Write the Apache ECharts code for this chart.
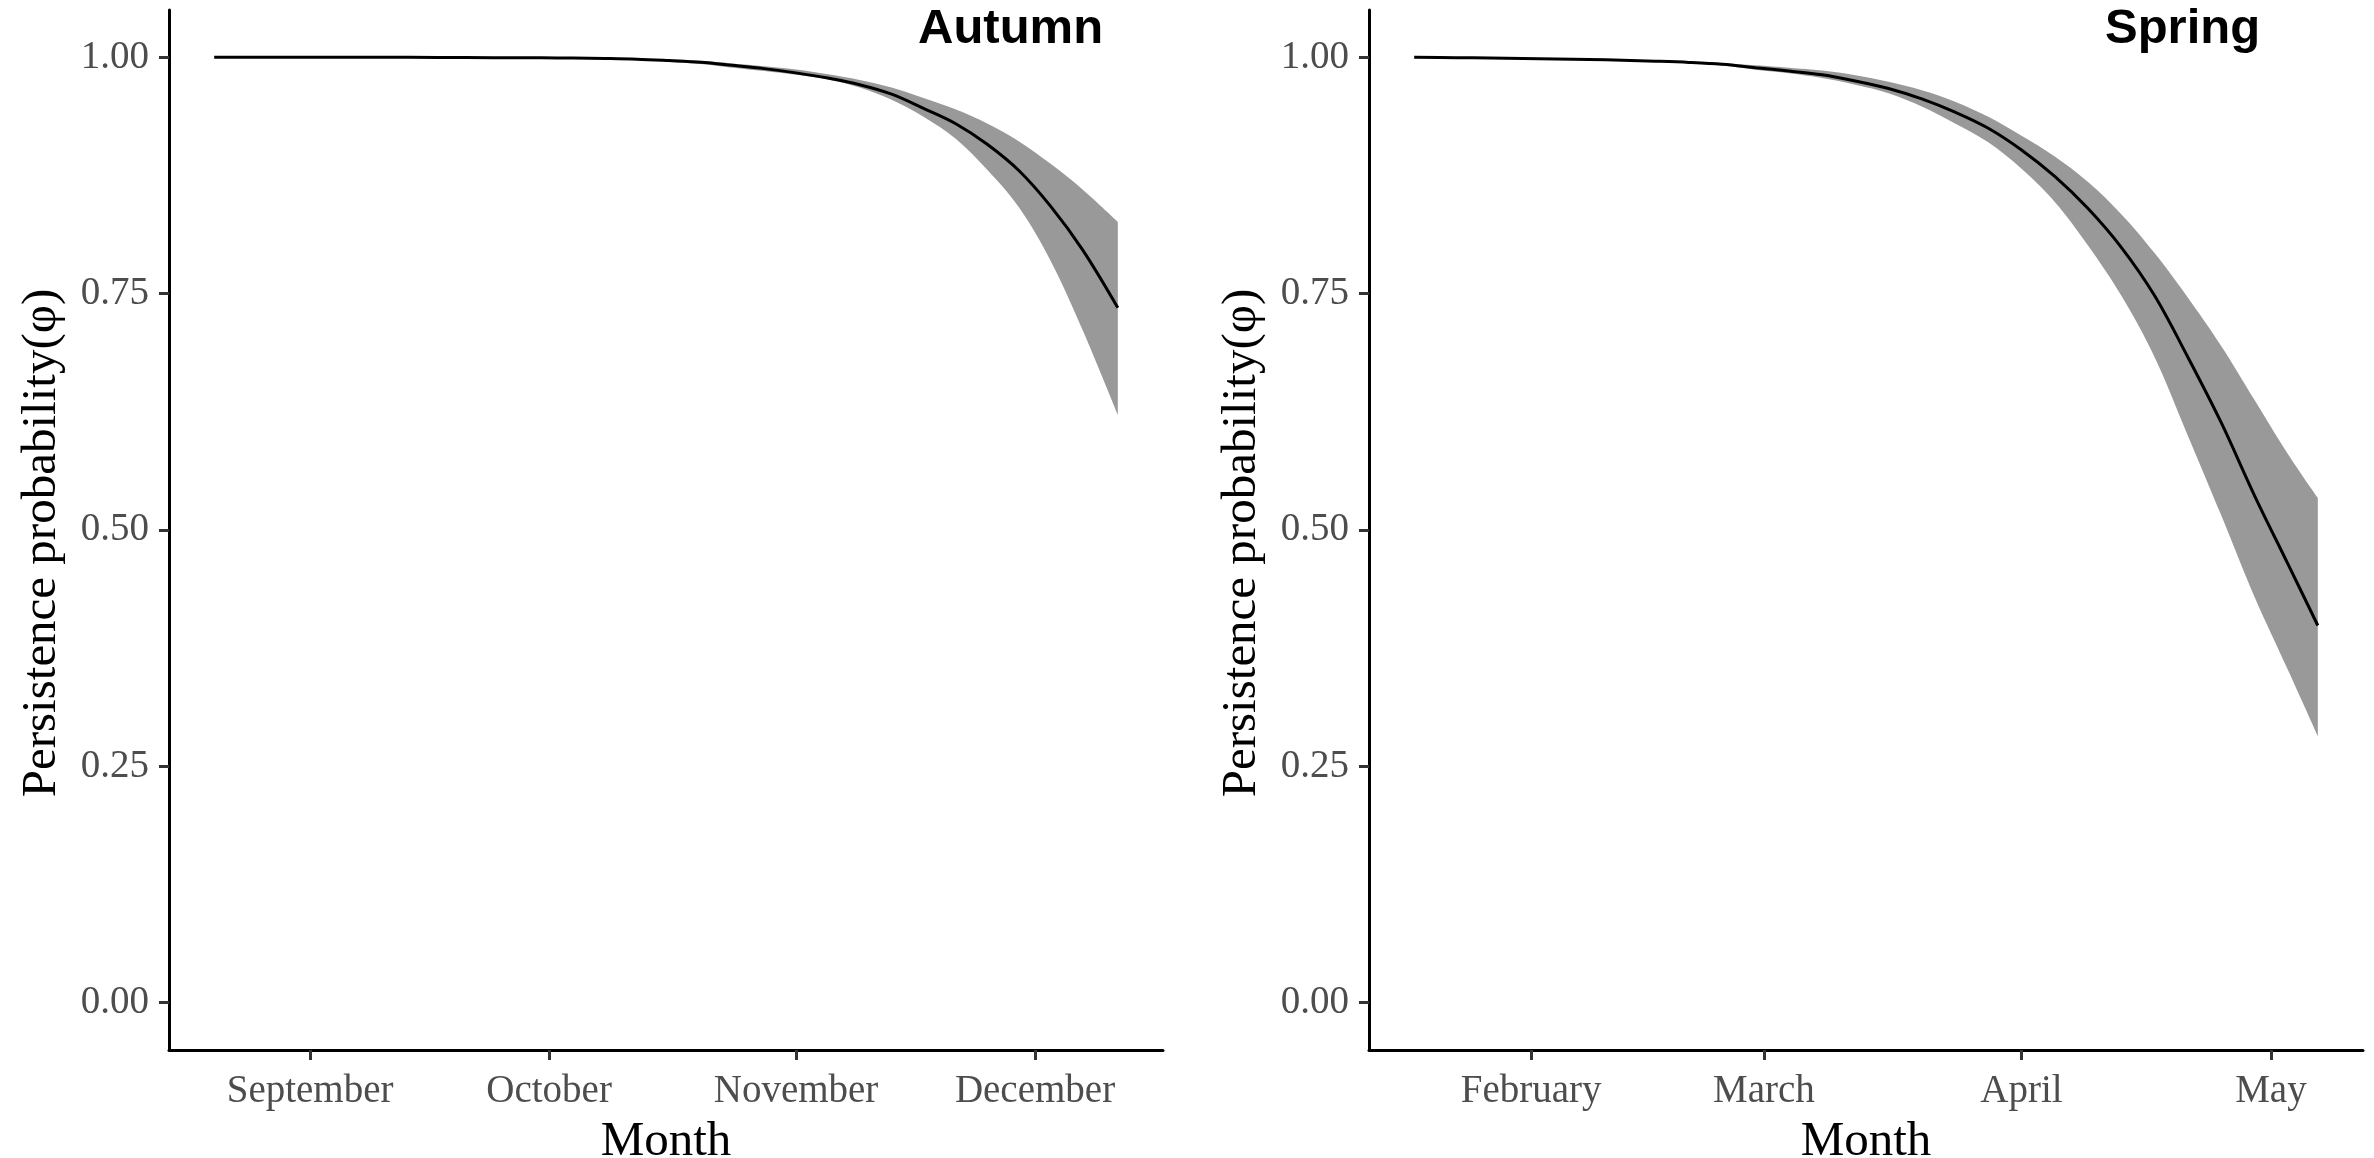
<!DOCTYPE html>
<html>
<head>
<meta charset="utf-8">
<script src="https://cdn.jsdelivr.net/npm/echarts@6.0.0/dist/echarts.min.js"></script>
<style>
html,body{margin:0;padding:0;background:#ffffff;}
#chart{width:2374px;height:1158px;}
</style>
</head>
<body>
<div id="chart"></div>
<script>
// ---------------- data ----------------
const autumnDates = ['2019-08-19T23:00','2019-08-27','2019-09-03','2019-09-10','2019-09-17','2019-09-24','2019-09-30','2019-10-04','2019-10-08','2019-10-12','2019-10-16','2019-10-20','2019-10-24','2019-10-28','2019-11-01','2019-11-05','2019-11-09','2019-11-13','2019-11-17','2019-11-21','2019-11-25','2019-11-29','2019-12-03','2019-12-07','2019-12-11T09:30'];
const autumnMean  = [1.000,1.000,1.000,1.000,0.9998,0.9996,0.9994,0.9991,0.9987,0.998,0.9965,0.9947,0.9915,0.988,0.9835,0.978,0.971,0.961,0.946,0.930,0.908,0.880,0.842,0.796,0.735];
const autumnUpper = [1.000,1.000,1.000,1.000,1.000,0.9999,0.9998,0.9996,0.9993,0.9988,0.9978,0.9962,0.9935,0.9905,0.987,0.982,0.976,0.968,0.957,0.945,0.930,0.911,0.887,0.860,0.826];
const autumnLower = [1.000,1.000,1.000,1.000,0.9997,0.9993,0.999,0.9986,0.998,0.9972,0.9952,0.993,0.989,0.9855,0.9815,0.9765,0.968,0.955,0.937,0.914,0.881,0.841,0.784,0.711,0.622];

const springDates = ['2019-01-17T22:20','2019-01-23','2019-01-27','2019-01-31','2019-02-04','2019-02-08','2019-02-12','2019-02-16','2019-02-20','2019-02-24','2019-02-28','2019-03-04','2019-03-08','2019-03-12','2019-03-16','2019-03-20','2019-03-24','2019-03-28','2019-04-01','2019-04-05','2019-04-09','2019-04-13','2019-04-17','2019-04-21','2019-04-25','2019-04-29','2019-05-03','2019-05-06T15:30'];
const springMean  = [1.000,0.9996,0.9992,0.9988,0.9983,0.9977,0.9968,0.9958,0.9945,0.9925,0.989,0.9855,0.9815,0.975,0.967,0.956,0.942,0.925,0.902,0.874,0.840,0.799,0.748,0.683,0.614,0.537,0.465,0.399];
const springUpper = [1.000,0.9997,0.9994,0.999,0.9986,0.998,0.9972,0.9963,0.9952,0.9938,0.9915,0.989,0.986,0.981,0.974,0.965,0.953,0.937,0.917,0.895,0.868,0.834,0.793,0.746,0.695,0.638,0.581,0.534];
const springLower = [1.000,0.9995,0.999,0.9986,0.998,0.9974,0.9964,0.9953,0.9938,0.9912,0.9868,0.983,0.978,0.971,0.962,0.948,0.930,0.910,0.882,0.847,0.801,0.748,0.683,0.600,0.516,0.430,0.353,0.282];

const autumnTickDates  = ['2019-09-01','2019-10-01','2019-11-01','2019-12-01'];
const autumnTickLabels = ['September','October','November','December'];
const springTickDates  = ['2019-02-01','2019-03-01','2019-04-01','2019-05-01'];
const springTickLabels = ['February','March','April','May'];

const yTicks      = [0, 0.25, 0.5, 0.75, 1];
const yTickLabels = ['0.00','0.25','0.50','0.75','1.00'];

const panelTitles = ['Autumn','Spring'];
const xTitle = 'Month';
const yTitle = 'Persistence probability(\u03c6)';

// ---------------- helpers ----------------
function toMs(s){ return Date.parse(s.length === 10 ? s + 'T00:00:00Z' : s + ':00Z'); }
const SERIF = "'Liberation Serif','Times New Roman',serif";
const SANS  = "'Liberation Sans',Arial,sans-serif";

function panel(idx, dates, mean, lower, upper, tickDates, tickLabels){
  const t = dates.map(toMs);
  const tickMs = tickDates.map(toMs);
  const span = t[t.length-1] - t[0];
  const xMin = t[0] - 0.05*span, xMax = t[t.length-1] + 0.05*span;
  // hidden time axis that carries the series (so the band can be stacked)
  const timeAxis = { type:'time', gridIndex:idx, min:xMin, max:xMax, show:false, splitLine:{show:false} };
  // visible axis with ticks at the first day of each month
  const monthAxis = {
    type:'value', gridIndex:idx, min:xMin, max:xMax, position:'bottom', z:10,
    axisLine:{show:true, onZero:false, lineStyle:{color:'#000', width:3}},
    axisTick:{show:true, customValues:tickMs, length:10, lineStyle:{color:'#333333', width:3}},
    axisLabel:{show:true, customValues:tickMs, color:'#4d4d4d', fontSize:39, fontFamily:SERIF, margin:22,
      formatter:function(v){ const i = tickMs.findIndex(function(k){return Math.abs(k-v)<1;}); return i >= 0 ? tickLabels[i] : ''; }},
    splitLine:{show:false},
    name:xTitle, nameLocation:'middle', nameGap:68,
    nameTextStyle:{fontSize:49, color:'#000', fontFamily:SERIF}
  };
  const yAxis = {
    type:'value', gridIndex:idx, min:-0.05, max:1.05, z:10,
    axisLine:{show:true, onZero:false, lineStyle:{color:'#000', width:3}},
    axisTick:{show:true, customValues:yTicks, length:10, lineStyle:{color:'#333333', width:3}},
    axisLabel:{show:true, customValues:yTicks, color:'#4d4d4d', fontSize:39, fontFamily:SERIF, margin:20,
      formatter:function(v){ const i = yTicks.findIndex(function(k){return Math.abs(k-v)<1e-9;}); return i>=0 ? yTickLabels[i] : ''; }},
    splitLine:{show:false},
    name:yTitle, nameLocation:'middle', nameGap:102,
    nameTextStyle:{fontSize:49, color:'#000', fontFamily:SERIF, padding:[0,26,0,0]}
  };
  const xi = idx*2;
  const stackId = 'band' + idx;
  const series = [
    {type:'line', xAxisIndex:xi, yAxisIndex:idx, stack:stackId, smooth:0.35, symbol:'none', silent:true, z:1,
     lineStyle:{width:0, opacity:0}, data:t.map(function(x,i){return [x, lower[i]];})},
    {type:'line', xAxisIndex:xi, yAxisIndex:idx, stack:stackId, smooth:0.35, symbol:'none', silent:true, z:2,
     lineStyle:{width:0, opacity:0}, areaStyle:{color:'#999999', opacity:1},
     data:t.map(function(x,i){return [x, upper[i]-lower[i]];})},
    {type:'line', xAxisIndex:xi, yAxisIndex:idx, smooth:0.35, symbol:'none', z:3,
     lineStyle:{color:'#000', width:3}, data:t.map(function(x,i){return [x, mean[i]];})}
  ];
  return {xAxes:[timeAxis, monthAxis], yAxis:yAxis, series:series};
}

const pA = panel(0, autumnDates, autumnMean, autumnLower, autumnUpper, autumnTickDates, autumnTickLabels);
const pS = panel(1, springDates, springMean, springLower, springUpper, springTickDates, springTickLabels);

const chart = echarts.init(document.getElementById('chart'), null, {renderer:'canvas'});
chart.setOption({
  animation:false,
  backgroundColor:'#ffffff',
  title:[
    {text:panelTitles[0], left:918, top:5, padding:0, textStyle:{fontSize:49, fontWeight:'bold', color:'#000', fontFamily:SANS}},
    {text:panelTitles[1], left:2105, top:5, padding:0, textStyle:{fontSize:49, fontWeight:'bold', color:'#000', fontFamily:SANS}}
  ],
  grid:[
    {left:169, right:2374-1163, top:10, bottom:108, containLabel:false, outerBoundsMode:'none'},
    {left:1369, right:2374-2363, top:10, bottom:108, containLabel:false, outerBoundsMode:'none'}
  ],
  xAxis:pA.xAxes.concat(pS.xAxes),
  yAxis:[pA.yAxis, pS.yAxis],
  series:pA.series.concat(pS.series)
});
</script>
</body>
</html>
